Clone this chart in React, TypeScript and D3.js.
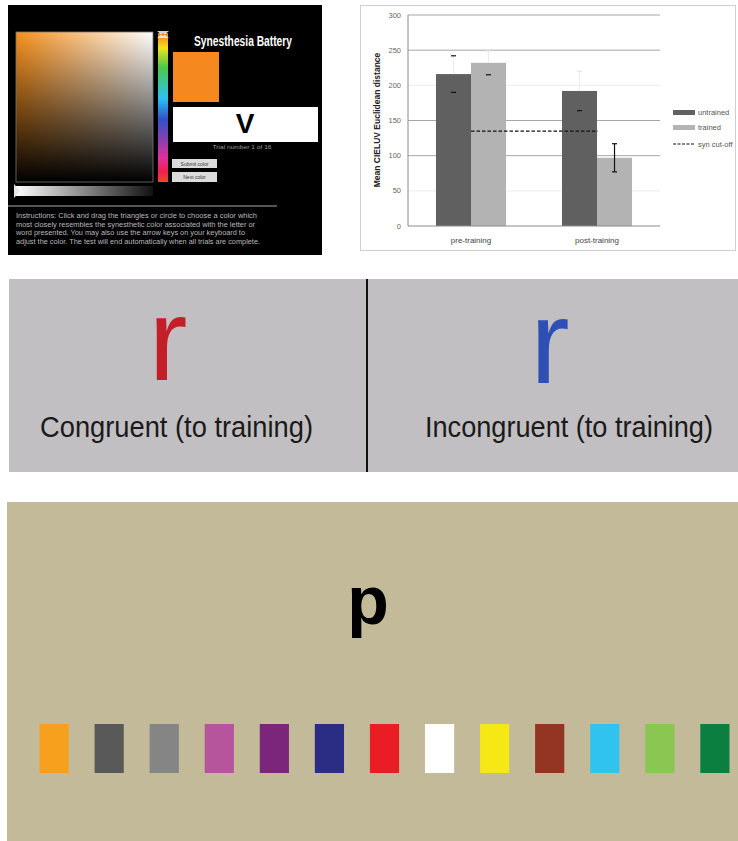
import React from "react";
import * as d3 from "d3";

// ---- data ----
const phases = ["pre-training", "post-training"];
const groups = ["untrained", "trained"];
const untrainedMeans = [216, 192];
const untrainedErr = [26, 28];
const trainedMeans = [232, 97];
const trainedErr = [17, 20];
const synCutoff = 135;
const yTicks = [0, 50, 100, 150, 200, 250, 300];

const swatchColors = [
  "#f7a01e", "#595959", "#858585", "#b6549c", "#7b267a", "#2a2d83", "#ea1d25",
  "#ffffff", "#f5e814", "#943422", "#31c3ef", "#8bc552", "#0b7f40",
];

const instructionLines = [
  "Instructions: Click and drag the triangles or circle to choose a color which",
  "most closely resembles the synesthetic color associated with the letter or",
  "word presented. You may also use the arrow keys on your keyboard to",
  "adjust the color. The test will end automatically when all trials are complete.",
];
const instructionWidths = [241, 239, 229, 244];

const FONT = "'Liberation Sans', Arial, Helvetica, sans-serif";

function BatteryPanel() {
  return (
    <g>
      <defs>
        <linearGradient id="satGrad" x1="0" y1="0" x2="1" y2="0">
          <stop offset="0" stopColor="#f7901c" />
          <stop offset="1" stopColor="#ffffff" />
        </linearGradient>
        <linearGradient id="darkGrad" x1="0" y1="0" x2="0" y2="1">
          <stop offset="0" stopColor="#000" stopOpacity={0} />
          <stop offset="1" stopColor="#000" stopOpacity={1} />
        </linearGradient>
        <linearGradient id="hueGrad" x1="0" y1="0" x2="0" y2="1">
          <stop offset="0" stopColor="#f07a22" />
          <stop offset="0.1" stopColor="#f2e21c" />
          <stop offset="0.23" stopColor="#4cc84a" />
          <stop offset="0.44" stopColor="#2cc0f0" />
          <stop offset="0.58" stopColor="#3052c8" />
          <stop offset="0.72" stopColor="#8a40b0" />
          <stop offset="0.84" stopColor="#e0309a" />
          <stop offset="0.93" stopColor="#f02050" />
          <stop offset="1" stopColor="#f04a20" />
        </linearGradient>
        <linearGradient id="greyGrad" x1="0" y1="0" x2="1" y2="0">
          <stop offset="0" stopColor="#ffffff" />
          <stop offset="1" stopColor="#111111" />
        </linearGradient>
      </defs>
      <rect x={8} y={5} width={314} height={250} fill="#000" />
      {/* saturation / value square */}
      <rect x={16} y={32} width={137} height={150} fill="url(#satGrad)" />
      <rect x={16} y={32} width={137} height={150} fill="url(#darkGrad)" stroke="#777" strokeWidth={0.8} />
      {/* hue strip */}
      <rect x={158} y={33} width={10} height={149} fill="url(#hueGrad)" />
      <path d="M157,31 L169,31 L163,36 Z M157,38 L169,38 L163,33 Z" fill="#e8e8e8" opacity={0.9} />
      {/* grey slider */}
      <rect x={16} y={186} width={137} height={10} fill="url(#greyGrad)" />
      <path d="M14,184 L20,191 L14,198 Z" fill="#e8e8e8" />
      <text x={243} y={46} fill="#fff" fontFamily={FONT} fontWeight="bold" fontSize={14}
        textAnchor="middle" textLength={98} lengthAdjust="spacingAndGlyphs">Synesthesia Battery</text>
      <rect x={173} y={52} width={46} height={50} fill="#f5881f" />
      <rect x={173} y={107} width={145} height={35} fill="#fff" />
      <text x={245} y={133} fill="#000" fontFamily={FONT} fontWeight="bold" fontSize={28} textAnchor="middle">V</text>
      <text x={242} y={149} fill="#9a9a9a" fontFamily={FONT} fontSize={5.5} textAnchor="middle"
        textLength={59} lengthAdjust="spacingAndGlyphs">Trial number  1   of 16</text>
      <rect x={172} y={159} width={45} height={9} fill="#dcdcdc" />
      <text x={194.5} y={165.5} fill="#333" fontFamily={FONT} fontSize={5} textAnchor="middle">Submit color</text>
      <rect x={172} y={172} width={45} height={10} fill="#dcdcdc" />
      <text x={194.5} y={179} fill="#333" fontFamily={FONT} fontSize={5} textAnchor="middle">Next color</text>
      <line x1={8} x2={277} y1={206} y2={206} stroke="#a8a8a8" strokeWidth={1} />
      {instructionLines.map((t, i) => (
        <text key={i} x={16} y={218 + i * 8.7} fill="#b8b8b8" fontFamily={FONT} fontSize={7}
          textLength={instructionWidths[i]} lengthAdjust="spacingAndGlyphs">{t}</text>
      ))}
    </g>
  );
}

function BarChartPanel() {
  const y = d3.scaleLinear().domain([0, 300]).range([226, 15]);
  const x0 = d3.scaleBand().domain(phases).range([408, 660]).paddingInner(0.444).paddingOuter(0.222);
  const x1 = d3.scaleBand().domain(groups).range([0, x0.bandwidth()]);
  const step = x0.step();
  const centers = phases.map((p) => (x0(p) as number) + x0.bandwidth() / 2);
  const series = [
    { key: "untrained", means: untrainedMeans, errs: untrainedErr, fill: "#606060" },
    { key: "trained", means: trainedMeans, errs: trainedErr, fill: "#b3b3b3" },
  ];
  const faintLines = new Set([200, 50]);
  return (
    <g fontFamily={FONT}>
      <rect x={360.5} y={5.5} width={375} height={245} fill="#fff" stroke="#cfcfcf" strokeWidth={1} />
      {yTicks.filter((t) => t > 0).map((t) => (
        <line key={t} x1={408} x2={660} y1={y(t)} y2={y(t)}
          stroke={faintLines.has(t) ? "#ececec" : "#a6a6a6"} strokeWidth={1} />
      ))}
      {yTicks.map((t) => (
        <text key={t} x={401} y={y(t) + 2.5} fontSize={7.5} fill="#666" textAnchor="end">{t}</text>
      ))}
      {series.map((s) =>
        phases.map((p, i) => {
          const bx = (x0(p) as number) + (x1(s.key) as number);
          return (
            <rect key={s.key + p} x={bx} y={y(s.means[i])} width={x1.bandwidth()}
              height={y(0) - y(s.means[i])} fill={s.fill} />
          );
        })
      )}
      {series.map((s, si) =>
        phases.map((p, i) => {
          const cx = (x0(p) as number) + (x1(s.key) as number) + x1.bandwidth() / 2;
          const lo = y(s.means[i] - s.errs[i]);
          const hi = y(s.means[i] + s.errs[i]);
          const top = y(s.means[i]);
          const solid = si === 1 && i === 1;
          const upperDark = solid || (si === 0 && i === 0);
          return (
            <g key={"e" + s.key + p}>
              {solid ? (
                <line x1={cx} x2={cx} y1={hi} y2={lo} stroke="#111" strokeWidth={1.2} />
              ) : (
                <line x1={cx} x2={cx} y1={hi} y2={top} stroke="#ececec" strokeWidth={1} />
              )}
              <line x1={cx - 2.5} x2={cx + 2.5} y1={lo} y2={lo} stroke="#111" strokeWidth={1.2} />
              <line x1={cx - 2.5} x2={cx + 2.5} y1={hi} y2={hi} stroke={upperDark ? "#111" : "#e4e4e4"} strokeWidth={1.2} />
            </g>
          );
        })
      )}
      <line x1={centers[0]} x2={centers[1] + 1} y1={y(synCutoff)} y2={y(synCutoff)}
        stroke="#111" strokeWidth={1.2} strokeDasharray="3.5,2" />
      <line x1={408} x2={408} y1={15} y2={226} stroke="#8a8a8a" strokeWidth={1} />
      <line x1={408} x2={408 + step * 2} y1={226} y2={226} stroke="#8a8a8a" strokeWidth={1} />
      {phases.map((p, i) => (
        <text key={p} x={centers[i]} y={243} fontSize={8} fill="#444" textAnchor="middle">{p}</text>
      ))}
      <text transform="translate(380,120) rotate(-90)" fontSize={8.5} fontWeight="bold" fill="#222"
        textAnchor="middle">Mean CIELUV Euclidean distance</text>
      {/* legend */}
      <rect x={673} y={110} width={22} height={5} fill="#606060" />
      <text x={698} y={115} fontSize={7.5} fill="#555">untrained</text>
      <rect x={673} y={125} width={22} height={5} fill="#b3b3b3" />
      <text x={698} y={130} fontSize={7.5} fill="#555">trained</text>
      <line x1={673} x2={695} y1={144} y2={144} stroke="#111" strokeWidth={1.2} strokeDasharray="3,1.5" />
      <text x={698} y={146.5} fontSize={7.5} fill="#555">syn cut-off</text>
    </g>
  );
}

function StroopPanel() {
  return (
    <g fontFamily={FONT}>
      <rect x={9} y={279} width={729} height={193} fill="#c1bfc1" />
      <line x1={367} x2={367} y1={279} y2={472} stroke="#111" strokeWidth={2} />
      <text x={168} y={380} fill="#c41e28" fontSize={116} textAnchor="middle">r</text>
      <text x={176.5} y={437} fill="#1a1a1a" fontSize={29} textAnchor="middle"
        textLength={273} lengthAdjust="spacingAndGlyphs">Congruent (to training)</text>
      <text x={550} y={383} fill="#2e4fb4" fontSize={118} textAnchor="middle">r</text>
      <text x={569} y={437} fill="#1a1a1a" fontSize={29} textAnchor="middle"
        textLength={288} lengthAdjust="spacingAndGlyphs">Incongruent (to training)</text>
    </g>
  );
}

function PalettePanel() {
  const xs = d3.scaleBand<number>()
    .domain(swatchColors.map((_, i) => i))
    .range([28.5, 740.5])
    .paddingInner(0.47)
    .paddingOuter(0.2);
  return (
    <g fontFamily={FONT}>
      <rect x={7} y={502} width={731} height={339} fill="#c2ba98" />
      <text x={368} y={624} fill="#000" fontSize={68} fontWeight="bold" textAnchor="middle">p</text>
      {swatchColors.map((c, i) => (
        <rect key={i} x={xs(i)} y={724} width={xs.bandwidth()} height={49} fill={c} />
      ))}
    </g>
  );
}

export default function App() {
  return (
    <div style={{ position: "absolute", left: 0, top: 0, width: 738, height: 841, background: "#fff" }}>
      <svg width={738} height={841} viewBox="0 0 738 841" style={{ display: "block" }}>
        <rect width={738} height={841} fill="#fff" />
        <BatteryPanel />
        <BarChartPanel />
        <StroopPanel />
        <PalettePanel />
      </svg>
    </div>
  );
}
